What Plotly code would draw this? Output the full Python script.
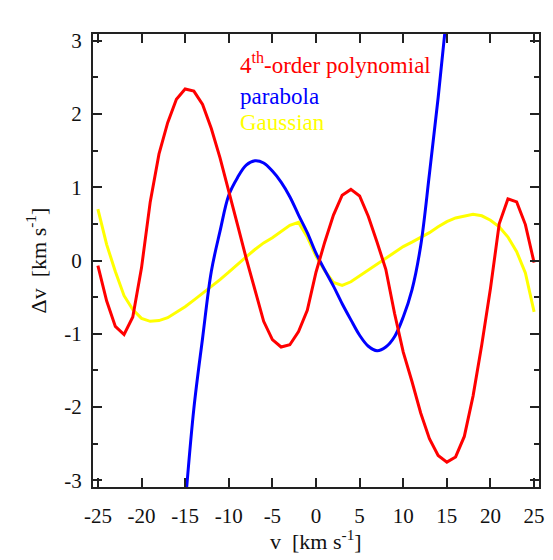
import plotly.graph_objects as go

v_red = list(range(-25, 26))
dv_red = [-0.07, -0.55, -0.90, -1.01, -0.77, -0.10, 0.80, 1.45, 1.88, 2.20,
          2.34, 2.31, 2.13, 1.80, 1.40, 0.96, 0.49, 0.03, -0.42, -0.83,
          -1.08, -1.18, -1.15, -0.97, -0.68, -0.16, 0.25, 0.62, 0.89, 0.97,
          0.88, 0.60, 0.25, -0.12, -0.72, -1.25, -1.65, -2.08, -2.43, -2.66,
          -2.75, -2.68, -2.40, -1.85, -1.15, -0.38, 0.50, 0.84, 0.80, 0.49,
          -0.03]

v_blue = list(range(-15, 16))
dv_blue = [-3.35, -2.02, -1.06, -0.15, 0.40, 0.89, 1.13, 1.30, 1.36, 1.33,
           1.22, 1.07, 0.87, 0.62, 0.38, 0.10, -0.13, -0.35, -0.59, -0.81,
           -1.02, -1.17, -1.23, -1.18, -1.04, -0.77, -0.40, 0.20, 1.18, 2.22,
           3.38]

v_yel = list(range(-25, 26))
dv_yel = [0.70, 0.22, -0.15, -0.48, -0.67, -0.79, -0.83, -0.82, -0.78, -0.71,
          -0.63, -0.54, -0.45, -0.36, -0.26, -0.16, -0.05, 0.05, 0.15, 0.24,
          0.31, 0.39, 0.48, 0.52, 0.32, 0.06, -0.14, -0.30, -0.34, -0.29,
          -0.21, -0.12, -0.04, 0.04, 0.12, 0.19, 0.25, 0.31, 0.38, 0.46,
          0.53, 0.58, 0.61, 0.63, 0.61, 0.55, 0.46, 0.32, 0.12, -0.17,
          -0.70]

x_ticks = [-25, -20, -15, -10, -5, 0, 5, 10, 15, 20, 25]
x_labels = ["-25", "-20", "-15", "-10", "-5", "0", "5", "10", "15", "20", "25"]
y_ticks = [-3, -2, -1, 0, 1, 2, 3]
y_labels = ["-3", "-2", "-1", "0", "1", "2", "3"]

legend_texts = ["4<sup>th</sup>-order polynomial", "parabola", "Gaussian"]
legend_colors = ["#ff0000", "#0000ff", "#ffff00"]

FONT = "Liberation Serif"

fig = go.Figure()
fig.add_trace(go.Scatter(x=v_yel, y=dv_yel, mode="lines",
                         line=dict(color="#ffff00", width=3), name="Gaussian"))
fig.add_trace(go.Scatter(x=v_blue, y=dv_blue, mode="lines",
                         line=dict(color="#0000ff", width=3, shape="spline"), name="parabola"))
fig.add_trace(go.Scatter(x=v_red, y=dv_red, mode="lines",
                         line=dict(color="#ff0000", width=3), name="4th-order polynomial"))

axis_common = dict(showgrid=False, zeroline=False, showline=True, linewidth=2,
                   linecolor="#222", mirror="ticks", ticks="inside", tickwidth=1.5,
                   tickcolor="#222", tickfont=dict(family=FONT, size=21, color="#111"))

fig.update_xaxes(range=[-25.56, 25.56], tickvals=x_ticks, ticktext=x_labels, ticklen=9,
                 ticklabelstandoff=9, **axis_common)
fig.update_yaxes(range=[-3.09, 3.09], tickvals=y_ticks, ticktext=y_labels, ticklen=9,
                 ticklabelstandoff=5,
                 minor=dict(dtick=0.5, ticklen=5, ticks="inside", tickwidth=1.5, tickcolor="#222"),
                 title=dict(text="Δv  [km s<sup>-1</sup>]", font=dict(family=FONT, size=22, color="#111"),
                            standoff=12),
                 **axis_common)

# x-axis title
fig.add_annotation(x=0.5, y=-0.117, xref="paper", yref="paper", text="v  [km s<sup>-1</sup>]",
                   showarrow=False, xanchor="center", yanchor="middle",
                   font=dict(family=FONT, size=22, color="#111"))

ypix = [63, 96, 122]
for text, col, ypx in zip(legend_texts, legend_colors, ypix):
    fig.add_annotation(x=-8.97, y=(260 - ypx) / 73.3, xref="x", yref="y",
                       text=text, showarrow=False, xanchor="left", yanchor="middle",
                       font=dict(family=FONT, size=23, color=col))

fig.update_layout(width=553, height=560, margin=dict(l=93, r=8, t=34, b=73),
                  paper_bgcolor="white", plot_bgcolor="white", showlegend=False,
                  font=dict(family=FONT))

fig.write_html("out.html")
